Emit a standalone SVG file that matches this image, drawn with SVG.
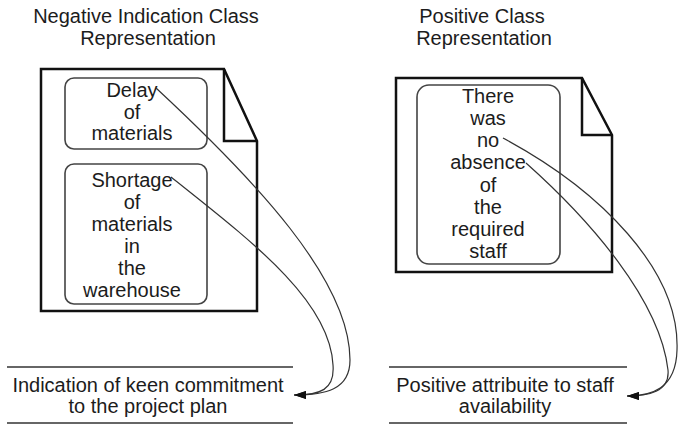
<svg xmlns="http://www.w3.org/2000/svg" width="679" height="424" viewBox="0 0 679 424">
  <style>
    .t { font-family: "Liberation Sans", Arial, sans-serif; font-size: 20px; fill: #1c1c1c; text-anchor: middle; }
    .doc { fill: #fff; stroke: #111; stroke-width: 2.5; stroke-linejoin: miter; }
    .fold { fill: none; stroke: #111; stroke-width: 2.5; }
    .box { fill: none; stroke: #444; stroke-width: 1.6; }
    .rule { stroke: #333; stroke-width: 1.5; }
    .link { fill: none; stroke: #333; stroke-width: 1.2; }
  </style>
  <defs>
    <marker id="arrow" markerUnits="userSpaceOnUse" markerWidth="14" markerHeight="10" refX="12" refY="4" orient="auto">
      <path d="M0,0 L12,4 L0,8 Z" fill="#111"/>
    </marker>
  </defs>
  <rect width="679" height="424" fill="#fff"/>

  <!-- Titles -->
  <g id="title-negative">
    <text class="t" x="146" y="23">Negative Indication Class</text>
    <text class="t" x="148" y="45">Representation</text>
  </g>
  <g id="title-positive">
    <text class="t" x="482" y="23">Positive Class</text>
    <text class="t" x="484" y="45">Representation</text>
  </g>

  <!-- Negative document -->
  <g id="doc-negative">
    <path class="doc" d="M41,69 H224 L257,141 V311 H41 Z"/>
    <path class="fold" d="M224,69 V141 H257"/>
  </g>
  <g id="node-delay">
    <rect class="box" x="65" y="78" width="142" height="71" rx="9"/>
    <text class="t" x="132" y="97">Delay</text>
    <text class="t" x="132" y="119">of</text>
    <text class="t" x="132" y="140">materials</text>
  </g>
  <g id="node-shortage">
    <rect class="box" x="65" y="164" width="142" height="140" rx="9"/>
    <text class="t" x="132" y="187">Shortage</text>
    <text class="t" x="132" y="209">of</text>
    <text class="t" x="132" y="231">materials</text>
    <text class="t" x="132" y="253">in</text>
    <text class="t" x="132" y="275">the</text>
    <text class="t" x="132" y="297">warehouse</text>
  </g>

  <!-- Positive document -->
  <g id="doc-positive">
    <path class="doc" d="M396,78 H582 L612,135 V272 H396 Z"/>
    <path class="fold" d="M582,78 V135 H612"/>
  </g>
  <g id="node-staff">
    <rect class="box" x="417" y="85" width="143" height="179" rx="12"/>
    <text class="t" x="488" y="103">There</text>
    <text class="t" x="488" y="125">was</text>
    <text class="t" x="488" y="147">no</text>
    <text class="t" x="488" y="169">absence</text>
    <text class="t" x="488" y="192">of</text>
    <text class="t" x="488" y="214">the</text>
    <text class="t" x="488" y="236">required</text>
    <text class="t" x="488" y="258">staff</text>
  </g>

  <!-- Outcome labels -->
  <g id="node-commitment">
    <line class="rule" x1="7" y1="367" x2="293" y2="367"/>
    <text class="t" x="148" y="392">Indication of keen commitment</text>
    <text class="t" x="148" y="413">to the project plan</text>
    <line class="rule" x1="7" y1="423" x2="293" y2="423"/>
  </g>
  <g id="node-availability">
    <line class="rule" x1="389" y1="367" x2="627" y2="367"/>
    <text class="t" x="505" y="392">Positive attribuite to staff</text>
    <text class="t" x="505" y="413">availability</text>
    <line class="rule" x1="389" y1="423" x2="627" y2="423"/>
  </g>

  <!-- Connectors -->
  <g id="connectors">
    <path class="link" d="M156,88 C255,180 350,280 350,360 C350,390 325,395 294,395" marker-end="url(#arrow)"/>
    <path class="link" d="M171,177 C250,240 330,300 333,365 C335,390 320,395 294,395" marker-end="url(#arrow)"/>
    <path class="link" d="M503,138 C600,190 680,270 677,350 C676,390 650,396 627,396" marker-end="url(#arrow)"/>
    <path class="link" d="M526,163 C590,220 660,300 668,370 C670,392 648,396 627,396" marker-end="url(#arrow)"/>
  </g>
</svg>
